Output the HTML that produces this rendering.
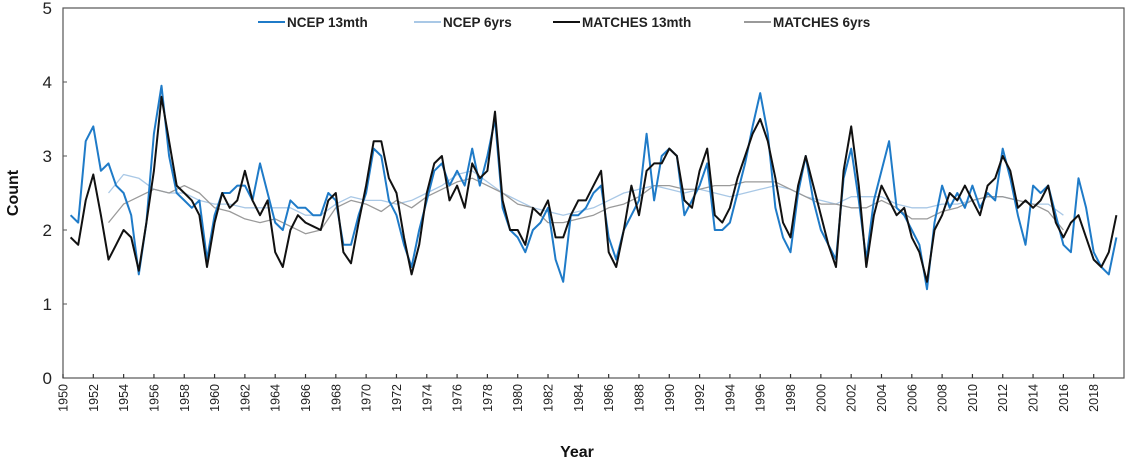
<!DOCTYPE html>
<html><head><meta charset="utf-8"><style>
body{margin:0;background:#fff;}
svg{display:block;font-family:"Liberation Sans",sans-serif;}
</style></head><body>
<svg id="chart" width="1127" height="460" viewBox="0 0 1127 460">
<g id="axes"></g><g id="series"></g><g id="legend"></g>
</svg>
<script>
const start13 = 1950.5;
const ncep13 = [2.2,2.1,3.2,3.4,2.8,2.9,2.6,2.5,2.2,1.4,2.1,3.3,3.95,3.0,2.5,2.4,2.3,2.4,1.6,2.2,2.5,2.5,2.6,2.6,2.4,2.9,2.5,2.1,2.0,2.4,2.3,2.3,2.2,2.2,2.5,2.4,1.8,1.8,2.2,2.5,3.1,3.0,2.4,2.2,1.8,1.5,2.0,2.4,2.8,2.9,2.6,2.8,2.6,3.1,2.6,3.0,3.5,2.3,2.0,1.9,1.7,2.0,2.1,2.3,1.6,1.3,2.2,2.2,2.3,2.5,2.6,1.9,1.6,2.0,2.2,2.4,3.3,2.4,3.0,3.1,3.0,2.2,2.4,2.6,2.9,2.0,2.0,2.1,2.5,2.9,3.4,3.85,3.3,2.3,1.9,1.7,2.5,3.0,2.4,2.0,1.8,1.6,2.7,3.1,2.4,1.6,2.4,2.8,3.2,2.3,2.2,2.0,1.8,1.2,2.1,2.6,2.3,2.5,2.3,2.6,2.3,2.5,2.4,3.1,2.7,2.2,1.8,2.6,2.5,2.6,2.2,1.8,1.7,2.7,2.3,1.7,1.5,1.4,1.9];
const matches13 = [1.9,1.8,2.4,2.75,2.2,1.6,1.8,2.0,1.9,1.45,2.1,2.8,3.8,3.2,2.6,2.5,2.4,2.2,1.5,2.1,2.5,2.3,2.4,2.8,2.4,2.2,2.4,1.7,1.5,2.0,2.2,2.1,2.05,2.0,2.4,2.5,1.7,1.55,2.1,2.6,3.2,3.2,2.7,2.5,1.9,1.4,1.8,2.5,2.9,3.0,2.4,2.6,2.3,2.9,2.7,2.8,3.6,2.4,2.0,2.0,1.8,2.3,2.2,2.4,1.9,1.9,2.2,2.4,2.4,2.6,2.8,1.7,1.5,2.0,2.6,2.2,2.8,2.9,2.9,3.1,3.0,2.4,2.3,2.8,3.1,2.2,2.1,2.3,2.7,3.0,3.3,3.5,3.2,2.7,2.1,1.9,2.6,3.0,2.6,2.2,1.8,1.5,2.8,3.4,2.6,1.5,2.2,2.6,2.4,2.2,2.3,1.9,1.7,1.3,2.0,2.2,2.5,2.4,2.6,2.4,2.2,2.6,2.7,3.0,2.8,2.3,2.4,2.3,2.4,2.6,2.1,1.9,2.1,2.2,1.9,1.6,1.5,1.7,2.2];
const start6 = 1953;
const ncep6 = [2.5,2.75,2.7,2.55,2.5,2.5,2.4,2.35,2.35,2.3,2.3,2.3,2.3,2.2,2.2,2.35,2.45,2.4,2.4,2.35,2.4,2.5,2.6,2.75,2.8,2.65,2.5,2.4,2.3,2.25,2.2,2.25,2.3,2.4,2.5,2.55,2.6,2.55,2.5,2.55,2.5,2.45,2.5,2.55,2.6,2.55,2.45,2.4,2.35,2.45,2.45,2.45,2.35,2.3,2.3,2.35,2.35,2.4,2.45,2.45,2.4,2.35,2.35,2.2];
const matches6 = [2.1,2.35,2.45,2.55,2.5,2.6,2.5,2.3,2.25,2.15,2.1,2.15,2.05,1.95,2.0,2.3,2.4,2.35,2.25,2.4,2.3,2.45,2.55,2.65,2.7,2.6,2.5,2.35,2.3,2.1,2.1,2.15,2.2,2.3,2.35,2.45,2.6,2.6,2.55,2.55,2.6,2.6,2.65,2.65,2.65,2.55,2.45,2.35,2.35,2.3,2.3,2.4,2.3,2.15,2.15,2.25,2.3,2.4,2.45,2.45,2.4,2.35,2.25,2.0];
const yTicks = [0,1,2,3,4,5];
const xTicks = [1950,1952,1954,1956,1958,1960,1962,1964,1966,1968,1970,1972,1974,1976,1978,1980,1982,1984,1986,1988,1990,1992,1994,1996,1998,2000,2002,2004,2006,2008,2010,2012,2014,2016,2018];
const legendLabels = ["NCEP 13mth","NCEP 6yrs","MATCHES 13mth","MATCHES 6yrs"];

const NS="http://www.w3.org/2000/svg";
const L=63,R=1124,T=8,B=378,X0=1950,X1=2020,Y0=0,Y1=5;
const xs=v=>L+(v-X0)/(X1-X0)*(R-L);
const ys=v=>B-(v-Y0)/(Y1-Y0)*(B-T);
function mk(tag,attrs,parent){const e=document.createElementNS(NS,tag);for(const k in attrs)e.setAttribute(k,attrs[k]);parent.appendChild(e);return e;}
const axes=document.getElementById('axes'),ser=document.getElementById('series'),leg=document.getElementById('legend');

const frame=mk('rect',{x:L,y:T,width:R-L,height:B-T,fill:'none',stroke:'#555','stroke-width':1.2},axes);


yTicks.forEach(v=>{
  const t=mk('text',{x:52,y:ys(v)+6,'text-anchor':'end','font-size':17,fill:'#222'},axes);
  t.textContent=v;
  
  
  const tk=mk('line',{x1:L,x2:L+4,y1:ys(v),y2:ys(v),stroke:'#555'},axes);
  
  
});
xTicks.forEach(v=>{
  const x=xs(v);
  const tk=mk('line',{x1:x,x2:x,y1:B,y2:B-4,stroke:'#333','stroke-width':1.2},axes);
  
  
  const t=mk('text',{x:0,y:0,'text-anchor':'end','font-size':12.5,fill:'#222',transform:`translate(${x+4.5},${B+6}) rotate(-90)`},axes);
  t.textContent=v;
  
  
});
const yt=mk('text',{x:0,y:0,'text-anchor':'middle','font-size':16,'font-weight':'bold',fill:'#111',transform:`translate(18,193) rotate(-90)`},axes);
yt.textContent='Count';


const xt=mk('text',{x:577,y:457,'text-anchor':'middle','font-size':16,'font-weight':'bold',fill:'#111'},axes);
xt.textContent='Year';



function line(vals,start,step,color,w,name){
  const pts=vals.map((v,i)=>xs(start+i*step).toFixed(1)+','+ys(v).toFixed(1)).join(' ');
  const p=mk('polyline',{points:pts,fill:'none',stroke:color,'stroke-width':w,'stroke-linejoin':'round'},ser);
  
  
}
line(ncep6,start6,1,'#a9c8e6',1.3,'ncep-6yrs-line');
line(matches6,start6,1,'#9a9a9a',1.3,'matches-6yrs-line');
line(ncep13,start13,0.5,'#1f7bc8',2,'ncep-13mth-line');
line(matches13,start13,0.5,'#111111',2,'matches-13mth-line');

const legX=[258,414,553,744],legC=['#1f7bc8','#a9c8e6','#111','#9a9a9a'];
legendLabels.forEach((lab,i)=>{
  const g=mk('g',{},leg);
  
  
  mk('line',{x1:legX[i],x2:legX[i]+27,y1:22,y2:22,stroke:legC[i],'stroke-width':2},g);
  const t=mk('text',{x:legX[i]+29,y:27,'font-size':13.5,'font-weight':'bold',fill:'#222'},g);
  t.textContent=lab;
});
</script>
</body></html>
